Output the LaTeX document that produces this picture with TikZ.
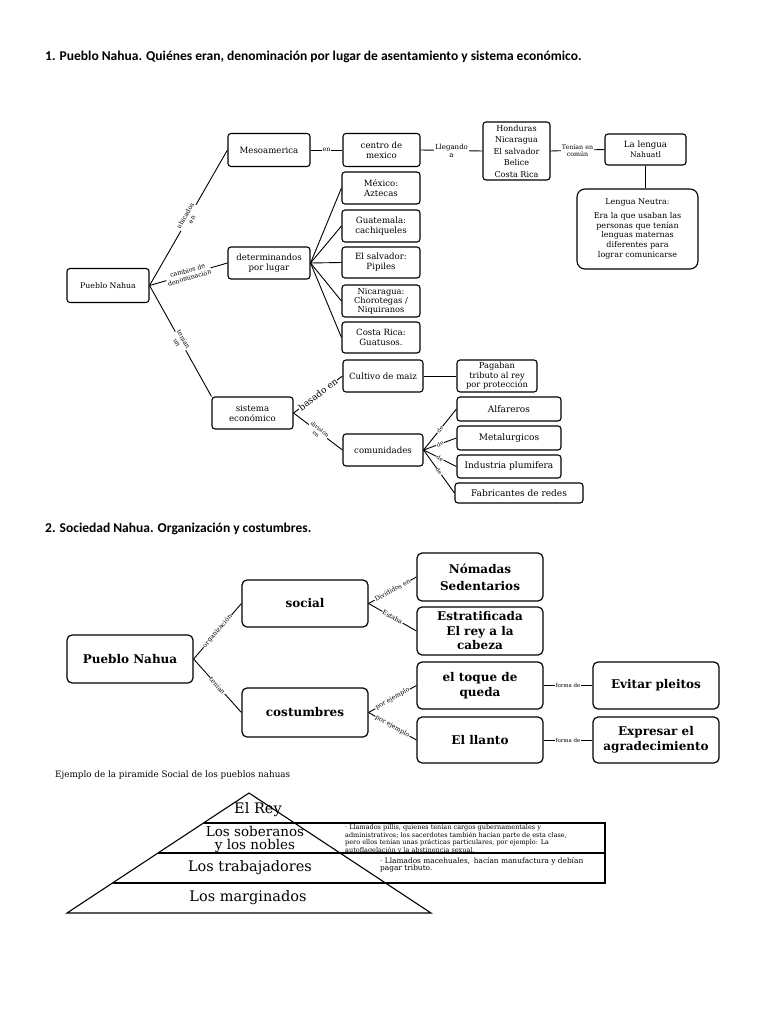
\documentclass[tikz,border=0pt]{standalone}
\usepackage{fontspec}
\setmainfont{DejaVu Serif}
\newfontfamily\titlefont{Carlito}
\usetikzlibrary{calc}
\begin{document}
\begin{tikzpicture}[x=1pt,y=-1pt,
  box/.style={draw, line width=1.1pt, rounded corners=3pt, inner sep=1pt, align=center, font=\fontsize{8.6}{10}\selectfont},
  sz/.style 2 args={minimum width=#1pt, minimum height=#2pt},
  bigbox/.style={draw, line width=1.2pt, rounded corners=5pt, inner sep=1pt, align=center, font=\bfseries\fontsize{12}{15}\selectfont, minimum width=126pt},
  conn/.style={line width=0.9pt},
  lbl/.style={fill=white, inner sep=0.6pt, font=\fontsize{6.3}{7.4}\selectfont, align=center},
  lblb/.style={fill=white, inner sep=0.6pt, font=\fontsize{6.3}{7.4}\selectfont, align=center},
  ttl/.style={anchor=west, inner sep=0pt, font=\titlefont\bfseries\fontsize{13.5}{15}\selectfont},
  pyr/.style={inner sep=0pt, align=center, font=\fontsize{14.5}{15}\selectfont},
  note/.style={anchor=north west, inner sep=0pt, align=left, font=\fontsize{6.5}{6.3}\selectfont}
]
\useasboundingbox (0,0) rectangle (768,1024);
\fill[white] (0,0) rectangle (768,1024);

% titles
\node[ttl] (t1) at (45,57) {1. Pueblo Nahua. Quiénes eran, denominación por lugar de asentamiento y sistema económico.};
\node[ttl] (t2) at (45,529) {2. Sociedad Nahua. Organización y costumbres.};

% ---------------- diagram 1 ----------------
\node[box, sz={82}{34}, font=\fontsize{7.8}{9}\selectfont] (pn1) at (108,285.5) {Pueblo Nahua};
\node[box, sz={82}{33}] (meso) at (269,150) {Mesoamerica};
\node[box, sz={77}{33}] (centro) at (381.5,150) {centro de\\mexico};
\node[box, sz={67}{58}, font=\fontsize{8.1}{11.5}\selectfont] (hond) at (516.5,151) {Honduras\\Nicaragua\\El salvador\\Belice\\Costa Rica};
\node[box, sz={81}{31}, font=\fontsize{8.6}{10}\selectfont] (nahuatl) at (645.5,149.5) {La lengua\\{\fontsize{7.6}{9}\selectfont Nahuatl}};
\node[box, sz={121}{80}, rounded corners=8pt, font=\fontsize{8}{9.8}\selectfont] (neutra) at (637.5,229) {Lengua Neutra:\\[4pt]Era la que usaban las\\personas que tenían\\lenguas maternas\\diferentes para\\lograr comunicarse};
\node[box, sz={78}{32}] (mex) at (381,188) {México:\\Aztecas};
\node[box, sz={78}{32}] (guat) at (381,226) {Guatemala:\\cachiqueles};
\node[box, sz={78}{31}] (salv) at (381,262.5) {El salvador:\\Pipiles};
\node[box, sz={78}{32}, font=\fontsize{8.3}{9}\selectfont] (nica) at (381,301) {Nicaragua:\\Chorotegas /\\Niquiranos};
\node[box, sz={78}{31}] (cr) at (381,337.5) {Costa Rica:\\Guatusos.};
\node[box, sz={82}{32}] (det) at (269,263) {determinandos\\por lugar};
\node[box, sz={81}{32}] (sist) at (252.5,413) {sistema\\económico};
\node[box, sz={80}{32}] (cult) at (383,376) {Cultivo de maiz};
\node[box, sz={80}{32}, font=\fontsize{8.3}{9.6}\selectfont] (pag) at (497,376) {Pagaban\\tributo al rey\\por protección};
\node[box, sz={80}{32}] (com) at (383,450) {comunidades};
\node[box, sz={104}{24}, font=\fontsize{9}{10}\selectfont] (alf) at (509,409) {Alfareros};
\node[box, sz={104}{24}, font=\fontsize{9}{10}\selectfont] (met) at (509,438) {Metalurgicos};
\node[box, sz={104}{23}, font=\fontsize{9}{10}\selectfont] (ind) at (509,466.5) {Industria plumifera};
\node[box, sz={128}{20}, font=\fontsize{9}{10}\selectfont] (fab) at (519,493) {Fabricantes de redes};

\draw[conn] (pn1.east) -- node[lbl, sloped] {ubicados\\en} (meso.west);
\draw[conn] (pn1.east) -- node[lbl, sloped] {cambios de\\denominación} (det.west);
\draw[conn] (pn1.east) -- node[lbl, sloped] {tenían\\un} (sist.north west);
\draw[conn] (meso.east) -- node[lbl] {en} (centro.west);
\draw[conn] (centro.east) -- node[lbl, font=\fontsize{7}{8.2}\selectfont] {Llegando\\a} (hond.west);
\draw[conn] (hond.east) -- node[lbl] {Tenían en\\común} (nahuatl.west);
\draw[conn] (nahuatl.south) -- (nahuatl.south |- neutra.north);
\foreach \t in {mex,guat,salv,nica,cr} \draw[conn] (det.east) -- (\t.west);
\draw[conn] (sist.east) -- node[lbl, sloped, font=\fontsize{9}{10}\selectfont] {basado en} (cult.west);
\draw[conn] (sist.east) -- node[lbl, sloped, font=\fontsize{5.5}{6.5}\selectfont] {división\\en} (com.west);
\draw[conn] (cult.east) -- (pag.west);
\foreach \t in {alf,met,ind,fab} \draw[conn] (com.east) -- node[lbl, sloped, font=\fontsize{5.5}{6.5}\selectfont] {de} (\t.west);

% ---------------- diagram 2 ----------------
\node[bigbox, minimum height=48pt] (pn2) at (130,659) {Pueblo Nahua};
\node[bigbox, minimum height=47pt] (soc) at (305,603.5) {social};
\node[bigbox, minimum height=49pt] (cost) at (305,712.5) {costumbres};
\node[bigbox, minimum height=48pt, font=\bfseries\fontsize{12}{17}\selectfont] (nom) at (480,577) {Nómadas\\Sedentarios};
\node[bigbox, minimum height=48pt, font=\bfseries\fontsize{12}{14.5}\selectfont] (est) at (480,631) {Estratificada\\El rey a la\\cabeza};
\node[bigbox, minimum height=47pt] (toq) at (480,685.5) {el toque de\\queda};
\node[bigbox, minimum height=46pt] (llan) at (480,740) {El llanto};
\node[bigbox, minimum height=47pt] (evit) at (656,685.5) {Evitar pleitos};
\node[bigbox, minimum height=46pt] (expr) at (656,740) {Expresar el\\agradecimiento};

\draw[conn] (pn2.east) -- node[lblb, sloped] {organización} (soc.west);
\draw[conn] (pn2.east) -- node[lblb, sloped] {tenían} (cost.west);
\draw[conn] (soc.east) -- node[lblb, sloped] {Divididos en} (nom.west);
\draw[conn] (soc.east) -- node[lblb, sloped] {Estaba} (est.west);
\draw[conn] (cost.east) -- node[lblb, sloped] {por ejemplo} (toq.west);
\draw[conn] (cost.east) -- node[lblb, sloped] {por ejemplo} (llan.west);
\draw[conn] (toq.east) -- node[lbl, font=\fontsize{5.5}{6.5}\selectfont] {forma de} (evit.west);
\draw[conn] (llan.east) -- node[lbl, font=\fontsize{5.5}{6.5}\selectfont] {forma de} (expr.west);

% ---------------- pyramid ----------------
\node[anchor=west, inner sep=0pt, font=\fontsize{8.8}{10}\selectfont] (cap) at (55,775) {Ejemplo de la piramide Social de los pueblos nahuas};
\draw[line width=1.1pt] (249,793) -- (67,913) -- (431,913) -- cycle;
\draw[line width=1.1pt] (203.5,823) -- (605,823) -- (605,883) -- (112.5,883);
\draw[line width=1.1pt] (158,853) -- (605,853);
\node[pyr] (rey) at (258,810) {El Rey};
\node[pyr, font=\fontsize{13.5}{13.5}\selectfont] (sob) at (255,839.5) {Los soberanos\\y los nobles};
\node[pyr] (trab) at (250,868) {Los trabajadores};
\node[pyr] (marg) at (248,898) {Los marginados};
\node[note] (n1) at (345,824) {· Llamados pillis, quienes tenían cargos gubernamentales y\\ administrativos; los sacerdotes también hacían parte de esta clase,\\ pero ellos tenían unas prácticas particulares, por ejemplo: La\\ autoflagelación y la abstinencia sexual.};
\node[note, font=\fontsize{7.4}{7.4}\selectfont] (n2) at (380,857) {· Llamados macehuales,\enspace hacían manufactura y debían\\ pagar tributo.};
\end{tikzpicture}
\end{document}
